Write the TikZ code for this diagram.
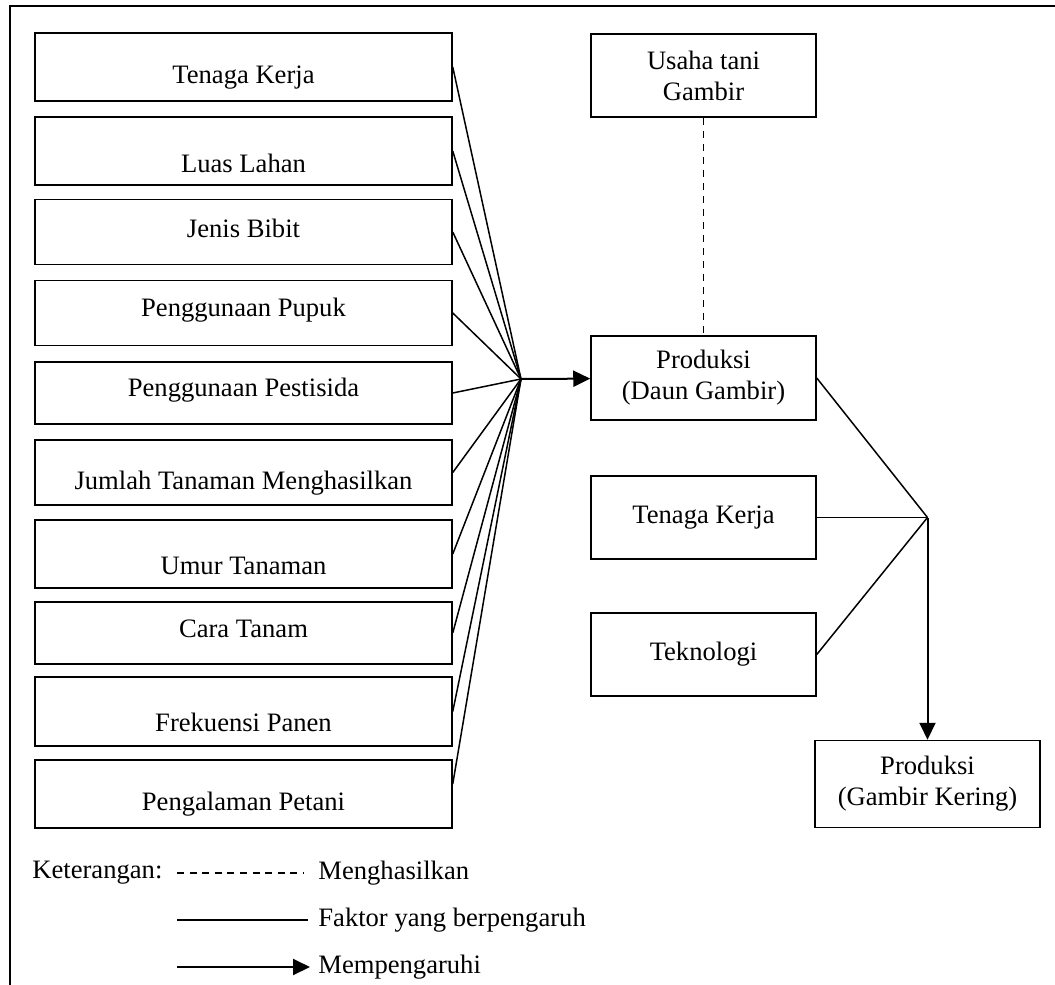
\documentclass[tikz,border=0pt]{standalone}
\usepackage{fontspec}
\setmainfont{Liberation Serif}
\usetikzlibrary{arrows.meta}
\begin{document}
\begin{tikzpicture}[x=0.5pt,y=-0.5pt,font=\fontsize{13.3}{15.5}\selectfont,
  factor/.style={draw,line width=0.75pt,minimum width=208.5pt,minimum height=32.5pt,inner sep=0pt},
  output/.style={draw,line width=0.75pt,minimum width=112.5pt,minimum height=41.5pt,align=center,inner sep=0pt},
  link/.style={line width=0.75pt},
  effect/.style={line width=1pt,-{Triangle[length=8.5pt,width=8pt]}},
  legend/.style={anchor=west,inner sep=0pt}]
\useasboundingbox (0,0) rectangle (1055,985);
\draw[line width=1pt] (10,985) -- (10,6) -- (1055,6);
% faktor-faktor produksi
\node[factor,minimum height=34pt,label={[yshift=-5.5pt]center:Tenaga Kerja}] (kerja) at (243.5,67) {};
\node[factor,minimum height=34pt,label={[yshift=-6pt]center:Luas Lahan}] (lahan) at (243.5,151) {};
\node[factor,label={[yshift=2pt]center:Jenis Bibit}] (bibit) at (243.5,232) {};
\node[factor,label={[yshift=1.5pt]center:Penggunaan Pupuk}] (pupuk) at (243.5,313) {};
\node[factor,minimum height=31pt,label={[yshift=1.5pt]center:Penggunaan Pestisida}] (pestisida) at (243.5,393) {};
\node[factor,label={[yshift=-5.25pt]center:Jumlah Tanaman Menghasilkan}] (jumlah) at (243.5,472.5) {};
\node[factor,minimum height=34pt,label={[yshift=-6pt]center:Umur Tanaman}] (umur) at (243.5,554) {};
\node[factor,minimum height=31pt,label={[yshift=2pt]center:Cara Tanam}] (cara) at (243.5,633) {};
\node[factor,minimum height=34.5pt,label={[yshift=-5.25pt]center:Frekuensi Panen}] (panen) at (243.5,711.5) {};
\node[factor,minimum height=34pt,label={[yshift=-5pt]center:Pengalaman Petani}] (petani) at (243.5,794) {};
\coordinate (hub) at (521,379);
\draw[link] (kerja.east) -- (hub); \draw[link] (lahan.east) -- (hub);
\draw[link] (bibit.east) -- (hub); \draw[link] (pupuk.east) -- (hub);
\draw[link] (pestisida.east) -- (hub); \draw[link] (jumlah.east) -- (hub);
\draw[link] (umur.east) -- (hub); \draw[link] (cara.east) -- (hub);
\draw[link] (panen.east) -- (hub); \draw[link] ([yshift=5pt]petani.east) -- (hub);
% produksi
\node[output] (usaha) at (703.5,75.5) {Usaha tani\\Gambir};
\node[output,minimum height=42pt] (daun) at (703.5,378) {Produksi\\(Daun Gambir)};
\node[output] (kerja2) at (703.5,517.5) {Tenaga Kerja};
\node[output] (tekno) at (703.5,654.5) {Teknologi};
\node[output,minimum height=43.5pt] (kering) at (927.5,784) {Produksi\\(Gambir Kering)};
\coordinate (knot) at (927.5,517.5);
\draw[link,dash pattern=on 3.5pt off 3pt] (usaha) -- (daun);
\draw[effect] (hub) -- (daun);
\draw[link] (daun.east) -- (knot); \draw[link] (kerja2.east) -- (knot); \draw[link] (tekno.east) -- (knot);
\draw[effect] (knot) -- (kering);
% keterangan
\node[legend] (ket) at (32,873) {Keterangan:};
\node[legend] (hasil) at (318,873) {Menghasilkan};
\node[legend] (faktor) at (318,920) {Faktor yang berpengaruh};
\node[legend] (pengaruh) at (318,967) {Mempengaruhi};
\coordinate (l1) at (177,873); \coordinate (l2) at (177,920); \coordinate (l3) at (177,967);
\draw[link,dash pattern=on 3.5pt off 2.8pt] (l1) -- ([xshift=-7pt]hasil.west);
\draw[link] (l2) -- ([xshift=-5pt]faktor.west);
\draw[effect] (l3) -- ([xshift=-4pt]pengaruh.west);
\end{tikzpicture}
\end{document}
